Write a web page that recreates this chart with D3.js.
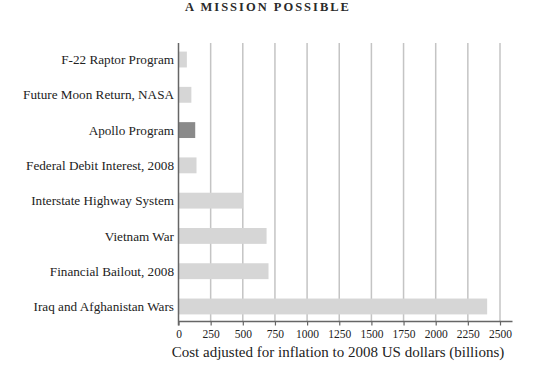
<!DOCTYPE html>
<html>
<head>
<meta charset="utf-8">
<script src="https://cdn.jsdelivr.net/npm/d3@7"></script>
<style>
  body { margin: 0; background: #fff; }
  svg { display: block; }
</style>
</head>
<body>
<div id="chart"></div>
<script>
// values (billions, 2008 US dollars)
const programs = ['F-22 Raptor Program', 'Future Moon Return, NASA', 'Apollo Program',
                  'Federal Debit Interest, 2008', 'Interstate Highway System', 'Vietnam War',
                  'Financial Bailout, 2008', 'Iraq and Afghanistan Wars'];
const costs = [65, 100, 130, 140, 500, 685, 700, 2400];
const highlight = ['Apollo Program'];
const xTicks = [0, 250, 500, 750, 1000, 1250, 1500, 1750, 2000, 2250, 2500];

const width = 538;
const height = 376;
const plotLeft = 178.5;
const plotRight = 500;
const plotTop = 43;
const plotBottom = 321.5;

const svg = d3.select('#chart')
     .append('svg')
          .attr('width', width)
          .attr('height', height);

const xScale = d3.scaleLinear()
     .domain([0, 2500])
     .range([plotLeft, plotRight]);

const yScale = d3.scaleBand()
     .domain(programs)
     .range([41, 325])
     .paddingInner(0.55)
     .paddingOuter(0.3);

// title
svg.append('text')
     .attr('x', 268)
     .attr('y', 11)
     .attr('text-anchor', 'middle')
     .attr('font-family', 'Liberation Serif, serif')
     .attr('font-weight', 'bold')
     .attr('font-size', 12.5)
     .attr('letter-spacing', 2)
     .attr('fill', '#2a2a2a')
     .text('A MISSION POSSIBLE');

// gridlines
svg.append('g')
     .selectAll('line')
     .data(xTicks.slice(1))
     .enter()
          .append('line')
               .attr('x1', d => xScale(d))
               .attr('x2', d => xScale(d))
               .attr('y1', plotTop)
               .attr('y2', plotBottom)
               .attr('stroke', '#c4c4c4')
               .attr('stroke-width', 1.5);

// bars
svg.append('g')
     .selectAll('rect')
     .data(programs)
     .enter()
          .append('rect')
               .attr('x', xScale(0))
               .attr('y', d => yScale(d))
               .attr('width', (d, i) => xScale(costs[i]) - xScale(0))
               .attr('height', yScale.bandwidth())
               .attr('fill', d => highlight.includes(d) ? '#8a8a8a' : '#d6d6d6');

// category labels
svg.append('g')
     .selectAll('text')
     .data(programs)
     .enter()
          .append('text')
               .attr('x', 174)
               .attr('y', d => yScale(d) + yScale.bandwidth() / 2)
               .attr('dy', '0.35em')
               .attr('text-anchor', 'end')
               .attr('font-family', 'Liberation Serif, serif')
               .attr('font-size', 13.2)
               .attr('fill', '#222')
               .text(d => d);

// x-axis
const xAxis = svg.append('g')
     .attr('transform', `translate(0, ${plotBottom})`)
     .call(d3.axisBottom(xScale).tickValues(xTicks).tickFormat(d3.format('d')).tickSize(4).tickPadding(4));
xAxis.select('.domain').remove();
xAxis.append('line')
     .attr('x1', plotLeft)
     .attr('x2', 512.5)
     .attr('stroke', '#666')
     .attr('stroke-width', 1.5);
xAxis.selectAll('.tick line').attr('stroke', '#666').attr('stroke-width', 1.2);
xAxis.selectAll('.tick text')
     .attr('font-family', 'Liberation Serif, serif')
     .attr('font-size', 11.5)
     .attr('fill', '#222');

// y-axis line
svg.append('line')
     .attr('x1', plotLeft)
     .attr('x2', plotLeft)
     .attr('y1', plotTop)
     .attr('y2', plotBottom + 4)
     .attr('stroke', '#666')
     .attr('stroke-width', 1.5);

// axis title
svg.append('text')
     .attr('x', 338)
     .attr('y', 357)
     .attr('text-anchor', 'middle')
     .attr('font-family', 'Liberation Serif, serif')
     .attr('font-size', 15)
     .attr('fill', '#222')
     .text('Cost adjusted for inflation to 2008 US dollars (billions)');
</script>
</body>
</html>
